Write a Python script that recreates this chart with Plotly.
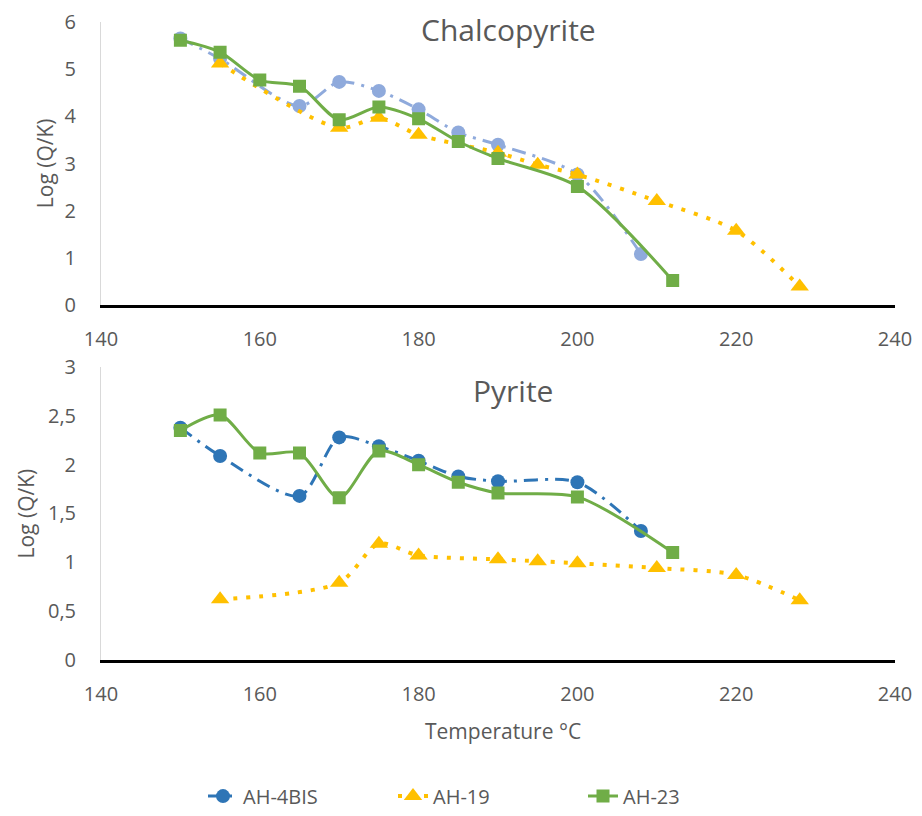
import plotly.graph_objects as go

# ---------------- data ----------------
# Chalcopyrite (top)
chalco_4bis_T = [150, 155, 165, 170, 175, 180, 185, 190, 200, 208]
chalco_4bis_v = [5.65, 5.22, 4.22, 4.73, 4.54, 4.15, 3.66, 3.40, 2.77, 1.09]
chalco_19_T = [155, 170, 175, 180, 190, 195, 200, 210, 220, 228]
chalco_19_v = [5.12, 3.76, 3.97, 3.61, 3.23, 2.98, 2.77, 2.21, 1.58, 0.40]
chalco_23_T = [150, 155, 160, 165, 170, 175, 180, 185, 190, 200, 212]
chalco_23_v = [5.61, 5.36, 4.77, 4.64, 3.93, 4.20, 3.95, 3.47, 3.11, 2.52, 0.53]

# Pyrite (bottom)
pyr_4bis_T = [150, 155, 165, 170, 175, 180, 185, 190, 200, 208]
pyr_4bis_v = [2.38, 2.09, 1.68, 2.28, 2.19, 2.04, 1.88, 1.83, 1.82, 1.32]
pyr_19_T = [155, 170, 175, 180, 190, 195, 200, 210, 220, 228]
pyr_19_v = [0.62, 0.79, 1.19, 1.07, 1.03, 1.01, 0.99, 0.94, 0.87, 0.61]
pyr_23_T = [150, 155, 160, 165, 170, 175, 180, 185, 190, 200, 212]
pyr_23_v = [2.35, 2.51, 2.12, 2.12, 1.66, 2.14, 2.00, 1.82, 1.71, 1.67, 1.10]

series_names = ["AH-4BIS", "AH-19", "AH-23"]
x_ticks = [140, 160, 180, 200, 220, 240]

# ---------------- styles ----------------
BLUE_DARK = "#2E75B6"
BLUE_LIGHT = "#8FAADC"
GOLD = "#FFC000"
GREEN = "#70AD47"
GREY = "#595959"
FONT = "'Open Sans', Lato, sans-serif"

W, H = 922, 816
x0, x1 = 101 / W, 895 / W
top_dom = [1 - 307 / H, 1 - 22 / H]
bot_dom = [1 - 663 / H, 1 - 369 / H]

fig = go.Figure()

def add(T, v, name, color, dash, width, symbol, size, xa, ya, show):
    fig.add_trace(go.Scatter(
        x=T, y=v, name=name, mode="lines+markers",
        line=dict(color=color, width=width, dash=dash, shape="spline", smoothing=0.8),
        marker=dict(symbol=symbol, size=size, color=color),
        xaxis=xa, yaxis=ya, showlegend=show,
    ))

DASHDOT = "14px,7px,3px,7px"
DOT = "4px,9px"

# top
add(chalco_4bis_T, chalco_4bis_v, series_names[0], BLUE_LIGHT, DASHDOT, 3, "circle", 14, "x", "y", False)
add(chalco_19_T, chalco_19_v, series_names[1], GOLD, DOT, 4, "triangle-up", 16, "x", "y", False)
add(chalco_23_T, chalco_23_v, series_names[2], GREEN, "solid", 3, "square", 13, "x", "y", False)
# bottom
add(pyr_4bis_T, pyr_4bis_v, series_names[0], BLUE_DARK, DASHDOT, 3, "circle", 14, "x2", "y2", True)
add(pyr_19_T, pyr_19_v, series_names[1], GOLD, DOT, 4, "triangle-up", 16, "x2", "y2", True)
add(pyr_23_T, pyr_23_v, series_names[2], GREEN, "solid", 3, "square", 13, "x2", "y2", True)

xcommon = dict(range=[140, 240], tickvals=x_ticks, showgrid=False, zeroline=False,
               showline=True, linecolor="black", linewidth=3, automargin=False,
               tickfont=dict(size=20, color=GREY, family=FONT),
               ticks="", ticklabelstandoff=14, domain=[x0, x1])
ycommon = dict(showgrid=False, zeroline=False, showline=True, linecolor="#D9D9D9",
               linewidth=1, automargin=False, tickfont=dict(size=20, color=GREY, family=FONT),
               ticks="", ticklabelstandoff=20)

fig.update_layout(
    template="none",
    width=W, height=H, autosize=False,
    margin=dict(l=0, r=0, t=0, b=0),
    paper_bgcolor="white", plot_bgcolor="white",
    separators=", ",
    font=dict(family=FONT, color=GREY),
    xaxis=dict(**xcommon, anchor="y"),
    yaxis=dict(**ycommon, range=[0, 6], dtick=1, domain=top_dom, anchor="x"),
    xaxis2=dict(**xcommon, anchor="y2"),
    yaxis2=dict(**ycommon, range=[0, 3], dtick=0.5, domain=bot_dom, anchor="x2"),
    legend=dict(orientation="h", x=203 / W, xanchor="left", y=1 - 800 / H, yanchor="middle",
                font=dict(size=20, color=GREY, family=FONT), entrywidth=145,
                bgcolor="rgba(0,0,0,0)"),
    annotations=[
        dict(text="Chalcopyrite", x=508 / W, y=1 - 30 / H, xref="paper", yref="paper",
             showarrow=False, font=dict(size=30, color=GREY, family=FONT),
             xanchor="center", yanchor="middle"),
        dict(text="Pyrite", x=513 / W, y=1 - 392 / H, xref="paper", yref="paper",
             showarrow=False, font=dict(size=30, color=GREY, family=FONT),
             xanchor="center", yanchor="middle"),
        dict(text="Log (Q/K)", x=45 / W, y=1 - 164 / H, xref="paper", yref="paper",
             showarrow=False, textangle=-90, font=dict(size=21, color=GREY, family=FONT),
             xanchor="center", yanchor="middle"),
        dict(text="Log (Q/K)", x=26 / W, y=1 - 516 / H, xref="paper", yref="paper",
             showarrow=False, textangle=-90, font=dict(size=21, color=GREY, family=FONT),
             xanchor="center", yanchor="middle"),
        dict(text="Temperature °C", x=503 / W, y=1 - 735 / H, xref="paper", yref="paper",
             showarrow=False, font=dict(size=21, color=GREY, family=FONT),
             xanchor="center", yanchor="middle"),
    ],
)

fig.write_html("out.html")
